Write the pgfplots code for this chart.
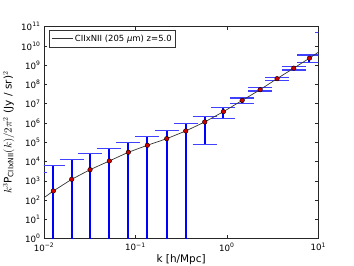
\documentclass[border=0pt]{standalone}
\usepackage{fontspec}
\setmainfont{DejaVu Sans}
\usepackage{pgfplots}
\usepackage{pgfplotstable}
\pgfplotsset{compat=1.18}

% points: k, value
\pgfplotstableread{
k y
0.01265 299
0.0201 1211
0.0319 3810
0.0518 10800
0.0836 30500
0.135 70300
0.220 155000
0.355 388000
0.573 1.14e6
0.916 3.90e6
1.47 1.49e7
2.31 5.40e7
3.54 2.01e8
5.39 7.05e8
8.0 2.33e9
}\points

% model curve
\pgfplotstableread{
k y
0.01 134
0.01265 299
0.0201 1211
0.0319 3810
0.0518 10800
0.0836 30500
0.135 70300
0.220 155000
0.355 388000
0.573 1.14e6
0.916 3.90e6
1.47 1.49e7
2.31 5.40e7
3.54 2.01e8
5.39 7.05e8
8.0 2.33e9
10.0 4.71e9
}\model

% error bars: lower and upper ends, separated by nan rows
\pgfplotstableread{
k y
0.0079 0.1
0.0079 2790
nan nan
0.01265 0.1
0.01265 6140
nan nan
0.0201 0.1
0.0201 12600
nan nan
0.0319 0.1
0.0319 25800
nan nan
0.0518 0.1
0.0518 49100
nan nan
0.0836 0.1
0.0836 101000
nan nan
0.135 0.1
0.135 206000
nan nan
0.220 0.1
0.220 402000
nan nan
0.355 0.1
0.355 929000
nan nan
0.573 75500
0.573 2.14e6
nan nan
0.916 1.69e6
0.916 6.29e6
nan nan
1.47 1.04e7
1.47 2.00e7
nan nan
2.31 4.62e7
2.31 6.86e7
nan nan
3.54 1.66e8
3.54 2.38e8
nan nan
5.39 5.69e8
5.39 8.43e8
nan nan
8.0 1.43e9
8.0 3.41e9
nan nan
12.5 0.1
12.5 5.1e10
}\bars

% error caps: left and right ends of each cap, separated by nan rows
\pgfplotstableread{
k y
0.00584 2790
0.01069 2790
nan nan
0.00935 6140
0.01712 6140
nan nan
0.01486 12600
0.02720 12600
nan nan
0.02358 25800
0.04316 25800
nan nan
0.03829 49100
0.07009 49100
nan nan
0.06179 101000
0.11311 101000
nan nan
0.09978 206000
0.18266 206000
nan nan
0.16260 402000
0.29766 402000
nan nan
0.26238 929000
0.48032 929000
nan nan
0.42350 2.14e6
0.77527 2.14e6
nan nan
0.42350 75500
0.77527 75500
nan nan
0.67701 6.29e6
1.23935 6.29e6
nan nan
0.67701 1.69e6
1.23935 1.69e6
nan nan
1.08647 2.00e7
1.98891 2.00e7
nan nan
1.08647 1.04e7
1.98891 1.04e7
nan nan
1.70732 6.86e7
3.12543 6.86e7
nan nan
1.70732 4.62e7
3.12543 4.62e7
nan nan
2.61641 2.38e8
4.78962 2.38e8
nan nan
2.61641 1.66e8
4.78962 1.66e8
nan nan
3.98374 8.43e8
7.29267 8.43e8
nan nan
3.98374 5.69e8
7.29267 5.69e8
nan nan
5.91279 3.41e9
10.824 3.41e9
nan nan
5.91279 1.43e9
10.824 1.43e9
nan nan
9.23873 5.1e10
16.9125 5.1e10
}\caps

\begin{document}
\begin{tikzpicture}
\path[use as bounding box] (-44bp,-27.3bp) rectangle (310bp,238.7bp);
\begin{axis}[
  at={(0,0)}, anchor=south west,
  scale only axis, width=274.3bp, height=212bp,
  xmode=log, ymode=log, log basis x=10, log basis y=10,
  xmin=0.01, xmax=10, ymin=1, ymax=1e11,
  xtick={0.01,0.1,1,10},
  xticklabels={10\textsuperscript{−2},10\textsuperscript{−1},10\textsuperscript{0},10\textsuperscript{1}},
  ytick={1,10,100,1e3,1e4,1e5,1e6,1e7,1e8,1e9,1e10,1e11},
  yticklabels={10\textsuperscript{0},10\textsuperscript{1},10\textsuperscript{2},10\textsuperscript{3},10\textsuperscript{4},10\textsuperscript{5},10\textsuperscript{6},10\textsuperscript{7},10\textsuperscript{8},10\textsuperscript{9},10\textsuperscript{10},10\textsuperscript{11}},
  yminorticks=false,
  tick align=inside,
  major tick length=3.5bp, minor tick length=2bp,
  axis line style={black!85, line width=0.8bp},
  every tick/.style={black!85, line width=0.6bp},
  tick label style={font=\fontsize{8.7}{10}\selectfont},
  xticklabel style={yshift=-0.5bp},
  label style={font=\fontsize{10.5}{12}\selectfont},
  xlabel={k [h/Mpc]},
  xlabel style={yshift=3.5bp},
  ylabel={$k^3\mathrm{P}_{\mathrm{CIIxNII}}(k)/2\pi^2$ (Jy / sr)$^2$},
  unbounded coords=jump,
  legend style={at={(0,1)}, anchor=north west, xshift=5bp, yshift=-3.3bp,
    draw=black!80, line width=0.6bp, font=\fontsize{8.5}{10}\selectfont,
    inner xsep=2bp, inner ysep=2.5bp, cells={anchor=west}},
  legend image code/.code={\path (-4bp,0bp) -- (17bp,0bp);\draw[#1] (0bp,0bp) -- (13bp,0bp);},
]
\addplot[blue, line width=2bp, forget plot] table[x=k, y=y] {\bars};
\addplot[blue!75, line width=1.5bp, forget plot] table[x=k, y=y] {\caps};
\addplot[black!80, line width=0.7bp] table[x=k, y=y] {\model};
\addlegendentry{CIIxNII (205 {\itshape μ}m) z=5.0}
\addplot[only marks, mark=*, mark size=2.3bp, mark options={fill=red!80!black, draw=black, line width=0.4bp}, forget plot] table[x=k, y=y] {\points};
\end{axis}
\end{tikzpicture}
\end{document}
